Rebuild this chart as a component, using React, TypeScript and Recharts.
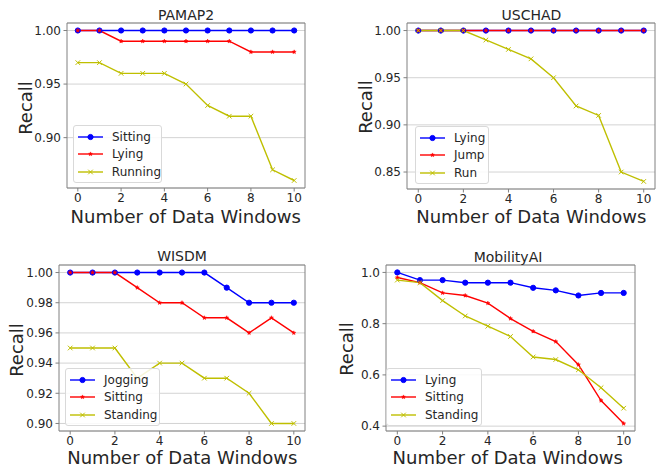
import React from "react";
import {
  CartesianGrid,
  Legend,
  Line,
  LineChart,
  ReferenceArea,
  XAxis,
  YAxis,
} from "recharts";

const windows = [0, 1, 2, 3, 4, 5, 6, 7, 8, 9, 10];
const xTicks = [0, 2, 4, 6, 8, 10];

const pamapSitting = [1, 1, 1, 1, 1, 1, 1, 1, 1, 1, 1];
const pamapLying = [1, 1, 0.99, 0.99, 0.99, 0.99, 0.99, 0.99, 0.98, 0.98, 0.98];
const pamapRunning = [0.97, 0.97, 0.96, 0.96, 0.96, 0.95, 0.93, 0.92, 0.92, 0.87, 0.86];
const pamapTicks = [0.9, 0.95, 1.0];

const uschadLying = [1, 1, 1, 1, 1, 1, 1, 1, 1, 1, 1];
const uschadJump = [1, 1, 1, 1, 1, 1, 1, 1, 1, 1, 1];
const uschadRun = [1, 1, 1, 0.99, 0.98, 0.97, 0.95, 0.92, 0.91, 0.85, 0.84];
const uschadTicks = [0.85, 0.9, 0.95, 1.0];

const wisdmJogging = [1, 1, 1, 1, 1, 1, 1, 0.99, 0.98, 0.98, 0.98];
const wisdmSitting = [1, 1, 1, 0.99, 0.98, 0.98, 0.97, 0.97, 0.96, 0.97, 0.96];
const wisdmStanding = [0.95, 0.95, 0.95, 0.93, 0.94, 0.94, 0.93, 0.93, 0.92, 0.9, 0.9];
const wisdmTicks = [0.9, 0.92, 0.94, 0.96, 0.98, 1.0];

const mobLying = [1.0, 0.97, 0.97, 0.96, 0.96, 0.96, 0.94, 0.93, 0.91, 0.92, 0.92];
const mobSitting = [0.98, 0.96, 0.92, 0.91, 0.88, 0.82, 0.77, 0.73, 0.64, 0.5, 0.41];
const mobStanding = [0.97, 0.96, 0.89, 0.83, 0.79, 0.75, 0.67, 0.66, 0.62, 0.55, 0.47];
const mobTicks = [0.4, 0.6, 0.8, 1.0];

const BLUE = "#0000ff";
const RED = "#ff0000";
const OLIVE = "#bfbf00";
const FONT = "'DejaVu Sans', sans-serif";
const TEXT = "#262626";
const FRAME = "#808080";

type MarkerKind = "circle" | "star" | "x";
type Series = { name: string; values: number[]; color: string; marker: MarkerKind };

function Marker({ cx, cy, kind, color }: { cx: number; cy: number; kind: MarkerKind; color: string }) {
  if (kind === "circle") return <circle cx={cx} cy={cy} r={2.6} fill={color} stroke={color} />;
  if (kind === "star") {
    const pts: string[] = [];
    for (let i = 0; i < 10; i++) {
      const r = i % 2 === 0 ? 2.1 : 0.9;
      const a = -Math.PI / 2 + (i * Math.PI) / 5;
      pts.push(`${cx + r * Math.cos(a)},${cy + r * Math.sin(a)}`);
    }
    return <polygon points={pts.join(" ")} fill={color} stroke={color} strokeWidth={0.5} />;
  }
  const d = 2.3;
  return (
    <path
      d={`M${cx - d},${cy - d}L${cx + d},${cy + d}M${cx - d},${cy + d}L${cx + d},${cy - d}`}
      stroke={color}
      strokeWidth={1}
      fill="none"
    />
  );
}

type PanelProps = {
  left: number;
  top: number;
  width: number;
  height: number;
  marginTop: number;
  marginRight: number;
  yWidth: number;
  xHeight: number;
  domain: [number, number];
  ticks: number[];
  digits: number;
  series: Series[];
  legend: { left: number; top: number; width: number };
};

function Panel(p: PanelProps) {
  const data = windows.map((w, i) => {
    const row: Record<string, number> = { w };
    p.series.forEach((s, k) => (row[`s${k}`] = s.values[i]));
    return row;
  });

  const legendContent = () => (
    <div
      style={{
        width: p.legend.width,
        height: 58,
        boxSizing: "border-box",
        background: "rgba(255,255,255,0.85)",
        border: "1px solid #d9d9d9",
        borderRadius: 3,
        paddingTop: 2,
        fontFamily: FONT,
        fontSize: 12,
        color: TEXT,
      }}
    >
      {p.series.map((s) => (
        <div key={s.name} style={{ display: "flex", alignItems: "center", height: 17.5 }}>
          <svg width={34} height={10} style={{ marginLeft: 4 }}>
            <line x1={0} y1={5} x2={25} y2={5} stroke={s.color} strokeWidth={1.4} />
            <Marker cx={12.5} cy={5} kind={s.marker} color={s.color} />
          </svg>
          <span>{s.name}</span>
        </div>
      ))}
    </div>
  );

  return (
    <div style={{ position: "absolute", left: p.left, top: p.top }}>
      <LineChart
        width={p.width}
        height={p.height}
        data={data}
        margin={{ top: p.marginTop, right: p.marginRight, left: 0, bottom: 0 }}
      >
        <CartesianGrid horizontal vertical={false} stroke="#d3d3d3" strokeWidth={1} />
        <XAxis
          dataKey="w"
          type="number"
          domain={[-0.5, 10.5]}
          ticks={xTicks}
          height={p.xHeight}
          tickSize={3.5}
          tickMargin={2}
          axisLine={false}
          tickLine={{ stroke: FRAME }}
          tick={{ fill: TEXT, fontSize: 12, fontFamily: FONT }}
        />
        <YAxis
          type="number"
          domain={p.domain}
          ticks={p.ticks}
          width={p.yWidth}
          tickSize={3.5}
          tickMargin={2.5}
          axisLine={false}
          tickLine={{ stroke: FRAME }}
          tickFormatter={(v: number) => v.toFixed(p.digits)}
          tick={{ fill: TEXT, fontSize: 12, fontFamily: FONT }}
        />
        {p.series.map((s, k) => (
          <Line
            key={s.name}
            dataKey={`s${k}`}
            name={s.name}
            stroke={s.color}
            strokeWidth={1.4}
            type="linear"
            isAnimationActive={false}
            dot={(d: any) => (
              <Marker key={`${s.name}-${d.index}`} cx={d.cx} cy={d.cy} kind={s.marker} color={s.color} />
            )}
            activeDot={false}
          />
        ))}
        <ReferenceArea
          x1={-0.5}
          x2={10.5}
          y1={p.domain[0]}
          y2={p.domain[1]}
          fill="none"
          stroke={FRAME}
          strokeWidth={1}
          ifOverflow="visible"
        />
        <Legend
          layout="vertical"
          align="center"
          verticalAlign="middle"
          content={legendContent}
          wrapperStyle={{ left: p.legend.left - p.left, top: p.legend.top - p.top, width: p.legend.width }}
        />
      </LineChart>
    </div>
  );
}

function Caption({ x, y, text, size, rotate }: { x: number; y: number; text: string; size: number; rotate?: boolean }) {
  return (
    <div
      style={{
        position: "absolute",
        left: x,
        top: y,
        transform: `translate(-50%, -50%)${rotate ? " rotate(-90deg)" : ""}`,
        fontFamily: FONT,
        fontSize: size,
        color: TEXT,
        whiteSpace: "nowrap",
      }}
    >
      {text}
    </div>
  );
}

export default function App() {
  return (
    <div style={{ position: "fixed", left: 0, top: 0, width: 665, height: 468, background: "#fff" }}>
      <Panel
        left={0}
        top={0}
        width={333}
        height={234}
        marginTop={23}
        marginRight={28}
        yWidth={67}
        xHeight={46}
        domain={[0.853, 1.007]}
        ticks={pamapTicks}
        digits={2}
        series={[
          { name: "Sitting", values: pamapSitting, color: BLUE, marker: "circle" },
          { name: "Lying", values: pamapLying, color: RED, marker: "star" },
          { name: "Running", values: pamapRunning, color: OLIVE, marker: "x" },
        ]}
        legend={{ left: 73, top: 125, width: 89 }}
      />
      <Panel
        left={333}
        top={0}
        width={332}
        height={234}
        marginTop={23}
        marginRight={10}
        yWidth={74}
        xHeight={45}
        domain={[0.832, 1.008]}
        ticks={uschadTicks}
        digits={2}
        series={[
          { name: "Lying", values: uschadLying, color: BLUE, marker: "circle" },
          { name: "Jump", values: uschadJump, color: RED, marker: "star" },
          { name: "Run", values: uschadRun, color: OLIVE, marker: "x" },
        ]}
        legend={{ left: 415, top: 126, width: 74 }}
      />
      <Panel
        left={0}
        top={234}
        width={333}
        height={234}
        marginTop={31}
        marginRight={28}
        yWidth={59}
        xHeight={37}
        domain={[0.895, 1.005]}
        ticks={wisdmTicks}
        digits={2}
        series={[
          { name: "Jogging", values: wisdmJogging, color: BLUE, marker: "circle" },
          { name: "Sitting", values: wisdmSitting, color: RED, marker: "star" },
          { name: "Standing", values: wisdmStanding, color: OLIVE, marker: "x" },
        ]}
        legend={{ left: 65, top: 368, width: 95 }}
      />
      <Panel
        left={333}
        top={234}
        width={332}
        height={234}
        marginTop={31}
        marginRight={30}
        yWidth={53}
        xHeight={37}
        domain={[0.381, 1.029]}
        ticks={mobTicks}
        digits={1}
        series={[
          { name: "Lying", values: mobLying, color: BLUE, marker: "circle" },
          { name: "Sitting", values: mobSitting, color: RED, marker: "star" },
          { name: "Standing", values: mobStanding, color: OLIVE, marker: "x" },
        ]}
        legend={{ left: 386, top: 368, width: 96 }}
      />

      <Caption x={186} y={15} text="PAMAP2" size={14} />
      <Caption x={531.5} y={14.5} text="USCHAD" size={14} />
      <Caption x={182} y={256} text="WISDM" size={14} />
      <Caption x={508} y={256.5} text="MobilityAI" size={14} />

      <Caption x={185.7} y={216} text="Number of Data Windows" size={18} />
      <Caption x={531.3} y={216} text="Number of Data Windows" size={18} />
      <Caption x={182.3} y={457} text="Number of Data Windows" size={18} />
      <Caption x={507.7} y={457} text="Number of Data Windows" size={18} />

      <Caption x={24.5} y={107.5} text="Recall" size={18} rotate />
      <Caption x={365.3} y={107} text="Recall" size={18} rotate />
      <Caption x={16} y={350} text="Recall" size={18} rotate />
      <Caption x={345.7} y={349} text="Recall" size={18} rotate />
    </div>
  );
}
